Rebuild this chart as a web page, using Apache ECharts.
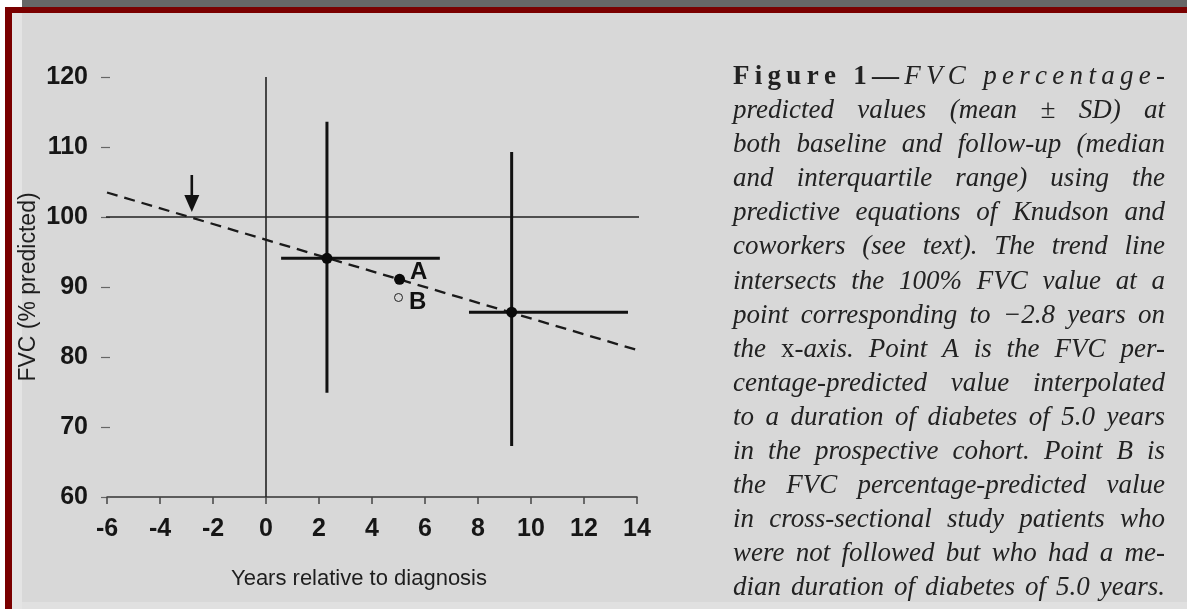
<!DOCTYPE html>
<html><head><meta charset="utf-8">
<script src="https://cdn.jsdelivr.net/npm/echarts@6/dist/echarts.min.js"></script>
<style>html,body{margin:0;padding:0;background:#fff}#c{width:1187px;height:609px}</style>
</head><body><div id="c"></div>
<script>
// ---------------- data ----------------
const xTicks = [-6, -4, -2, 0, 2, 4, 6, 8, 10, 12, 14];
const yTicks = [60, 70, 80, 90, 100, 110, 120];
const groupX = [2.3, 9.27];          // median years
const groupY = [94.1, 86.4];         // mean FVC %
const groupXLow = [0.57, 7.66];      // interquartile range
const groupXHigh = [6.56, 13.66];
const groupYLow = [74.9, 67.3];      // mean - SD
const groupYHigh = [113.6, 109.3];   // mean + SD
const pointA = [5.04, 91.1];
const pointB = [5.0, 88.5];
const trendX = [-6, 14];
const trendY = [103.5, 81.0];
const zeroLineX = [0, 0];
const zeroLineY = [60, 120];
const refLineX = [-6.2, 14.1];
const refLineY = [100, 100];
const arrowX = [-2.8];
const arrowFrom = [106];
const arrowTo = [100.7];
const xAxisName = 'Years relative to diagnosis';
const yAxisName = 'FVC (% predicted)';
const captionLines = [
  '{b|Figure 1—}{i|FVC percentage-}',
  'predicted values (mean ± SD) at',
  'both baseline and follow-up (median',
  'and interquartile range) using the',
  'predictive equations of Knudson and',
  'coworkers (see text). The trend line',
  'intersects the 100% FVC value at a',
  'point corresponding to −2.8 years on',
  'the {r|x}{i|-axis. Point A is the FVC per-}',
  'centage-predicted value interpolated',
  'to a duration of diabetes of 5.0 years',
  'in the prospective cohort. Point B is',
  'the FVC percentage-predicted value',
  'in cross-sectional study patients who',
  'were not followed but who had a me-',
  'dian duration of diabetes of 5.0 years.'
];
const captionCharSpaced = [true, false, false, false, false, false, false, false, false, false, false, false, false, false, false, false];

// ---------------- caption layout ----------------
const CAP_LEFT = 733, CAP_RIGHT = 1165, CAP_TOP = 77, CAP_STEP = 34.07;
const CAP_COLOR = '#222222';
const kinds = {
  i: {fontStyle: 'italic', fontWeight: 'normal'},
  b: {fontStyle: 'normal', fontWeight: 'bold'},
  r: {fontStyle: 'normal', fontWeight: 'normal'}
};
const mctx = document.createElement('canvas').getContext('2d');
function fontStr(k, size) {
  return kinds[k].fontStyle + ' ' + kinds[k].fontWeight + ' ' + size + 'px "Liberation Serif"';
}
function measure(t, k, size) { mctx.font = fontStr(k, size); return mctx.measureText(t).width; }
function parseChars(s) {
  const out = [];
  if (s.indexOf('{') < 0) { for (const c of s) out.push({c, k: 'i'}); return out; }
  const re = /\{(\w)\|([^}]*)\}/g; let m, last = 0;
  while ((m = re.exec(s))) {
    for (const c of s.slice(last, m.index)) out.push({c, k: 'i'});
    for (const c of m[2]) out.push({c, k: m[1]});
    last = re.lastIndex;
  }
  for (const c of s.slice(last)) out.push({c, k: 'i'});
  return out;
}
function segsOf(chars) {
  const segs = [];
  chars.forEach(ch => {
    if (segs.length && segs[segs.length - 1].k === ch.k) segs[segs.length - 1].t += ch.c;
    else segs.push({t: ch.c, k: ch.k});
  });
  return segs;
}
const W = CAP_RIGHT - CAP_LEFT;
let capSize = 27;
for (; capSize > 20; capSize -= 0.5) {
  let ok = true;
  captionLines.forEach((ln, li) => {
    if (captionCharSpaced[li]) return;
    const words = ln.replace(/\{\w\|([^}]*)\}/g, '$1').split(' ');
    let w = 0; words.forEach(wd => w += measure(wd, 'i', capSize));
    if (w + 0.2 * capSize * (words.length - 1) > W) ok = false;
  });
  if (ok) break;
}
const captionGraphics = [];
function pushText(t, k, x, y) {
  captionGraphics.push({
    type: 'text', x: x, y: y, silent: true,
    style: {text: t, fill: CAP_COLOR, fontFamily: 'Liberation Serif', fontSize: capSize,
      fontStyle: kinds[k].fontStyle, fontWeight: kinds[k].fontWeight, align: 'left', verticalAlign: 'middle'}
  });
}
captionLines.forEach((ln, li) => {
  const y = CAP_TOP + li * CAP_STEP;
  const chars = parseChars(ln);
  if (captionCharSpaced[li]) {
    let total = 0; chars.forEach(ch => total += measure(ch.c, ch.k, capSize));
    const extra = (W - total) / (chars.length - 1);
    let x = CAP_LEFT;
    chars.forEach(ch => {
      if (ch.c !== ' ') pushText(ch.c, ch.k, x, y);
      x += measure(ch.c, ch.k, capSize) + extra;
    });
  } else {
    const words = []; let cur = [];
    chars.forEach(ch => { if (ch.c === ' ') { words.push(cur); cur = []; } else cur.push(ch); });
    words.push(cur);
    const wsegs = words.map(segsOf);
    const widths = wsegs.map(ss => ss.reduce((a, s) => a + measure(s.t, s.k, capSize), 0));
    const sum = widths.reduce((a, b) => a + b, 0);
    const gap = words.length > 1 ? (W - sum) / (words.length - 1) : 0;
    let x = CAP_LEFT;
    wsegs.forEach((ss, wi) => {
      let sx = x;
      ss.forEach(s => { pushText(s.t, s.k, sx, y); sx += measure(s.t, s.k, capSize); });
      x += widths[wi] + gap;
    });
  }
});

// ---------------- chart ----------------
const chart = echarts.init(document.getElementById('c'), null, {renderer: 'canvas'});
const INK = '#111111';
const labelFont = {fontFamily: 'Liberation Sans', fontWeight: 'bold', fontSize: 25, color: '#161616'};

const frame = [
  {type: 'rect', shape: {x: 0, y: 0, width: 1187, height: 609}, style: {fill: '#d8d8d8'}, z: -10, silent: true},
  {type: 'rect', shape: {x: 0, y: 0, width: 5, height: 609}, style: {fill: '#ffffff'}, z: -9, silent: true},
  {type: 'rect', shape: {x: 0, y: 0, width: 22, height: 7}, style: {fill: '#ffffff'}, z: -9, silent: true},
  {type: 'rect', shape: {x: 22, y: 0, width: 1165, height: 7}, style: {fill: '#666666'}, z: -9, silent: true},
  {type: 'rect', shape: {x: 5, y: 7, width: 1182, height: 6}, style: {fill: '#7a0000'}, z: -9, silent: true},
  {type: 'rect', shape: {x: 5, y: 13, width: 7, height: 596}, style: {fill: '#7a0000'}, z: -9, silent: true},
  {type: 'rect', shape: {x: 12, y: 13, width: 10, height: 596}, style: {fill: '#e4e4e4'}, z: -9, silent: true},
  {type: 'rect', shape: {x: 22, y: 602, width: 1165, height: 7}, style: {fill: '#e0e0e0'}, z: -9, silent: true}
];

chart.setOption({
  animation: false,
  backgroundColor: 'transparent',
  grid: {left: 107, top: 77, width: 530, height: 420, containLabel: false, outerBoundsMode: 'none'},
  xAxis: {
    type: 'value', min: xTicks[0], max: xTicks[xTicks.length - 1], interval: xTicks[1] - xTicks[0],
    axisLine: {show: true, onZero: false, lineStyle: {color: '#333', width: 1.5}},
    axisTick: {show: true, inside: false, length: 7, lineStyle: {color: '#444', width: 1.5}},
    axisLabel: Object.assign({margin: 20}, labelFont),
    splitLine: {show: false},
    name: xAxisName, nameLocation: 'middle', nameGap: 71,
    nameTextStyle: {fontFamily: 'Liberation Sans', fontSize: 22, color: '#1e1e1e', padding: [0, 26, 0, 0]}
  },
  yAxis: {
    type: 'value', min: yTicks[0], max: yTicks[yTicks.length - 1], interval: yTicks[1] - yTicks[0],
    offset: 6,
    axisLine: {show: false, onZero: false},
    axisTick: {show: true, inside: true, length: 9, lineStyle: {color: '#666', width: 1.2}},
    axisLabel: Object.assign({margin: 13}, labelFont),
    splitLine: {show: false},
    name: yAxisName, nameLocation: 'middle', nameGap: 61,
    nameTextStyle: {fontFamily: 'Liberation Sans', fontSize: 23, color: '#1e1e1e'}
  },
  graphic: frame.concat(captionGraphics),
  series: [
    {type: 'line', data: zeroLineX.map((x, i) => [x, zeroLineY[i]]), symbol: 'none', clip: false,
      lineStyle: {color: '#222', width: 1.6}, silent: true, z: 2},
    {type: 'line', data: refLineX.map((x, i) => [x, refLineY[i]]), symbol: 'none', clip: false,
      lineStyle: {color: '#222', width: 1.4}, silent: true, z: 2},
    {type: 'line', data: trendX.map((x, i) => [x, trendY[i]]), symbol: 'none', clip: false,
      lineStyle: {color: '#1a1a1a', width: 2.3, type: [11, 7]}, silent: true, z: 3},
    {type: 'custom', clip: false, silent: true, z: 5,
      data: groupX.map((x, i) => [x, groupY[i], groupXLow[i], groupXHigh[i], groupYLow[i], groupYHigh[i]]),
      renderItem: function (params, api) {
        const c = api.coord([api.value(0), api.value(1)]);
        const l = api.coord([api.value(2), api.value(1)]);
        const r = api.coord([api.value(3), api.value(1)]);
        const b = api.coord([api.value(0), api.value(4)]);
        const t = api.coord([api.value(0), api.value(5)]);
        return {type: 'group', children: [
          {type: 'line', shape: {x1: l[0], y1: l[1], x2: r[0], y2: r[1]}, style: {stroke: INK, lineWidth: 3}},
          {type: 'line', shape: {x1: t[0], y1: t[1], x2: b[0], y2: b[1]}, style: {stroke: INK, lineWidth: 3}},
          {type: 'circle', shape: {cx: c[0], cy: c[1], r: 5.5}, style: {fill: '#0a0a0a'}}
        ]};
      }
    },
    {type: 'custom', clip: false, silent: true, z: 5,
      data: arrowX.map((x, i) => [x, arrowFrom[i], arrowTo[i]]),
      renderItem: function (params, api) {
        const top = api.coord([api.value(0), api.value(1)]);
        const tip = api.coord([api.value(0), api.value(2)]);
        const hw = 7.5, hh = 17;
        return {type: 'group', children: [
          {type: 'line', shape: {x1: top[0], y1: top[1], x2: tip[0], y2: tip[1] - hh + 2}, style: {stroke: INK, lineWidth: 2.6}},
          {type: 'polygon', shape: {points: [[tip[0] - hw, tip[1] - hh], [tip[0] + hw, tip[1] - hh], [tip[0], tip[1]]]}, style: {fill: INK}}
        ]};
      }
    },
    {type: 'scatter', data: [pointA], symbol: 'circle', symbolSize: 11, silent: true, z: 6,
      itemStyle: {color: '#0a0a0a', opacity: 1},
      label: {show: true, formatter: 'A', position: 'right', distance: 5, offset: [0, -7],
        fontFamily: 'Liberation Sans', fontWeight: 'bold', fontSize: 24, color: '#111111'}},
    {type: 'scatter', data: [pointB], symbol: 'circle', symbolSize: 8, silent: true, z: 6,
      itemStyle: {color: '#d8d8d8', borderColor: '#222', borderWidth: 1, opacity: 1},
      label: {show: true, formatter: 'B', position: 'right', distance: 6, offset: [0, 5],
        fontFamily: 'Liberation Sans', fontWeight: 'bold', fontSize: 24, color: '#111111'}}
  ]
});
</script>
</body></html>
